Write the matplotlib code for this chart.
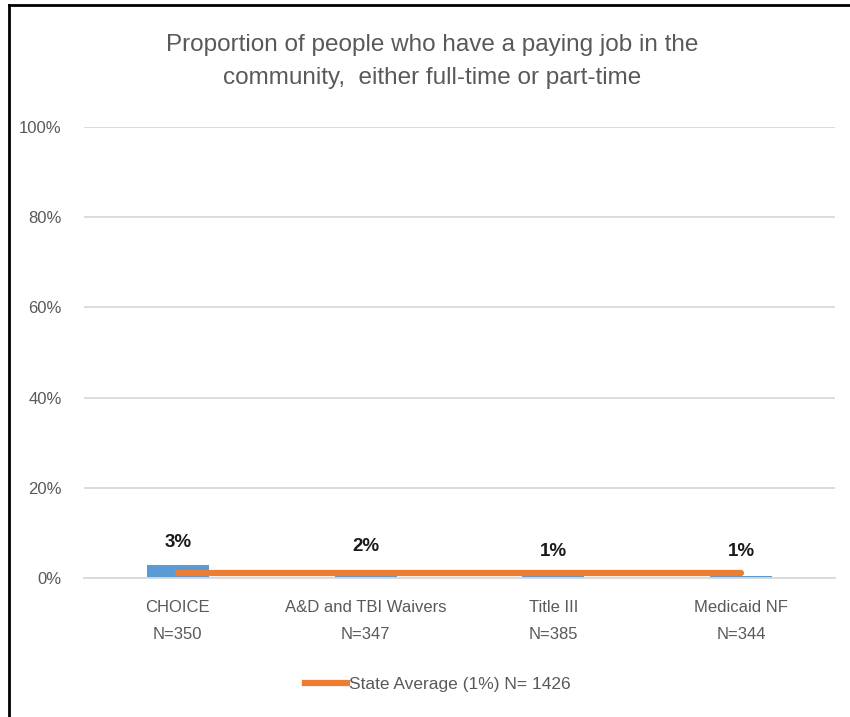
import numpy as np
import matplotlib
matplotlib.use("Agg")
import matplotlib.pyplot as plt
from matplotlib.lines import Line2D

plt.rcParams['font.family'] = ['Liberation Sans', 'DejaVu Sans']

programs = ['CHOICE', 'A&D and TBI Waivers', 'Title III', 'Medicaid NF']
n_sizes = [350, 347, 385, 344]
bar_values = [2.9, 0.4, 0.4, 0.4]      # bar heights as drawn in the chart
label_values = [3, 2, 1, 1]            # data labels shown above bars
state_avg = 1.1
state_label = 'State Average (1%) N= 1426'

grey = '#595959'

fig = plt.figure(figsize=(8.5, 7.17), dpi=100)
ax = fig.add_axes([84 / 850, 1 - 578 / 717, (835 - 84) / 850, (578 - 127) / 717])

x = np.arange(len(programs))
ax.bar(x, bar_values, width=0.33, color='#5B9BD5', zorder=2)
ax.plot(x, [state_avg] * len(x), color='#ED7D31', lw=4.5,
        solid_capstyle='round', zorder=3)

for xi, v in zip(x, label_values):
    ax.annotate(f'{v}%', (xi, v), xytext=(0, 16), textcoords='offset points',
                ha='center', va='center', fontsize=13.5, fontweight='bold',
                color='#1a1a1a')

ax.set_xlim(-0.5, len(programs) - 0.5)
ax.set_ylim(0, 100)
ax.set_yticks(np.arange(0, 101, 20))
ax.set_yticklabels([f'{t}%' for t in range(0, 101, 20)])
ax.set_xticks(x)
ax.set_xticklabels([f'{p}\nN={n}' for p, n in zip(programs, n_sizes)],
                   linespacing=2.0)
ax.tick_params(axis='both', length=0, colors=grey, labelsize=12)
ax.tick_params(axis='x', pad=16)
ax.tick_params(axis='y', pad=16)
ax.grid(axis='y', color='#d9d9d9', lw=1.3, zorder=0)
for s in ['top', 'right', 'left']:
    ax.spines[s].set_visible(False)
ax.spines['bottom'].set_color('#d9d9d9')
ax.spines['bottom'].set_linewidth(1.3)

fig.text(0.508, 1 - 61.5 / 717, 'Proportion of people who have a paying job in the\ncommunity,  either full-time or part-time',
         ha='center', va='center', fontsize=17.5, color=grey, linespacing=1.62)

handle = Line2D([], [], color='#ED7D31', lw=4.5)
fig.legend([handle], [state_label], loc='center', bbox_to_anchor=(0.515, 1 - 684 / 717),
           frameon=False, fontsize=12.5, labelcolor=grey, handlelength=2.4,
           handletextpad=0.1)

# image frame (left and top edges)
fig.add_artist(Line2D([9 / 850, 9 / 850], [0, 1 - 5 / 717], color='black', lw=2,
                      transform=fig.transFigure))
fig.add_artist(Line2D([9 / 850, 1], [1 - 5 / 717, 1 - 5 / 717], color='black', lw=2,
                      transform=fig.transFigure))

fig.savefig('out.png', dpi=100)
